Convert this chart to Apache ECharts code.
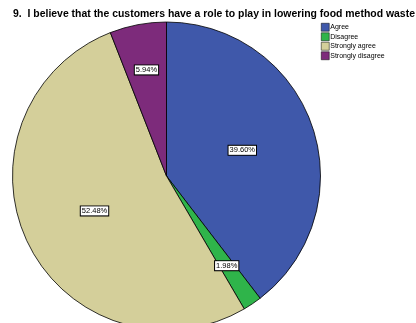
<!DOCTYPE html>
<html>
<head>
<meta charset="utf-8">
<script src="https://cdn.jsdelivr.net/npm/echarts@6/dist/echarts.min.js"></script>
<style>
  html, body { margin: 0; padding: 0; background: #fff; }
  #chart { width: 416px; height: 323px; }
</style>
</head>
<body>
<div id="chart"></div>
<script>
// Responses to question 9
const categories = ['Agree', 'Disagree', 'Strongly agree', 'Strongly disagree'];
const percents = [39.60, 1.98, 52.48, 5.94];
const colors = ['#3f58aa', '#2fb44a', '#d4cf9a', '#7d2b7b'];
// Thin slices get their label further out from the centre
const farLabel = ['Disagree', 'Strongly disagree'];

const chart = echarts.init(document.getElementById('chart'), null, { renderer: 'canvas' });

const slices = categories.map((name, i) => ({
  name,
  value: percents[i],
  itemStyle: { color: colors[i] }
}));

const boxLabel = {
  show: true,
  position: 'inside',
  formatter: p => p.value.toFixed(2) + '%',
  fontFamily: 'Liberation Sans, Arial, sans-serif',
  fontSize: 7.5,
  color: '#000',
  backgroundColor: '#fff',
  borderColor: '#000',
  borderWidth: 1,
  padding: [1, 1, 0, 1]
};

chart.setOption({
  animation: false,
  title: {
    text: '9.  I believe that the customers have a role to play in lowering food method waste',
    left: 13,
    top: 9,
    padding: 0,
    textStyle: {
      fontFamily: 'Liberation Sans, Arial, sans-serif',
      fontSize: 10.45,
      fontWeight: 'bold',
      color: '#000'
    }
  },
  legend: {
    orient: 'vertical',
    left: 321,
    top: 23,
    padding: 0,
    itemWidth: 8,
    itemHeight: 8,
    itemGap: 1,
    icon: 'rect',
    data: categories,
    itemStyle: { borderColor: '#000', borderWidth: 0.5 },
    textStyle: {
      fontFamily: 'Liberation Sans, Arial, sans-serif',
      fontSize: 7,
      color: '#000',
      padding: [0, 0, 0, -4]
    }
  },
  series: [
    {
      type: 'pie',
      center: [166.5, 176],
      radius: [0, 154],
      startAngle: 90,
      clockwise: true,
      data: slices.map(s => Object.assign({}, s, {
        label: farLabel.includes(s.name) ? { show: false } : undefined
      })),
      itemStyle: { borderColor: '#000', borderWidth: 0.8 },
      label: boxLabel,
      labelLine: { show: false },
      emphasis: { disabled: true }
    },
    {
      // label-only ring for the narrow slices
      type: 'pie',
      center: [166.5, 176],
      radius: [60, 150],
      startAngle: 90,
      clockwise: true,
      silent: true,
      legendHoverLink: false,
      data: slices.map(s => ({
        name: s.name,
        value: s.value,
        itemStyle: { color: 'rgba(0,0,0,0)', borderWidth: 0 },
        label: { show: farLabel.includes(s.name) }
      })),
      label: boxLabel,
      labelLine: { show: false },
      emphasis: { disabled: true },
      tooltip: { show: false }
    }
  ]
});
</script>
</body>
</html>
